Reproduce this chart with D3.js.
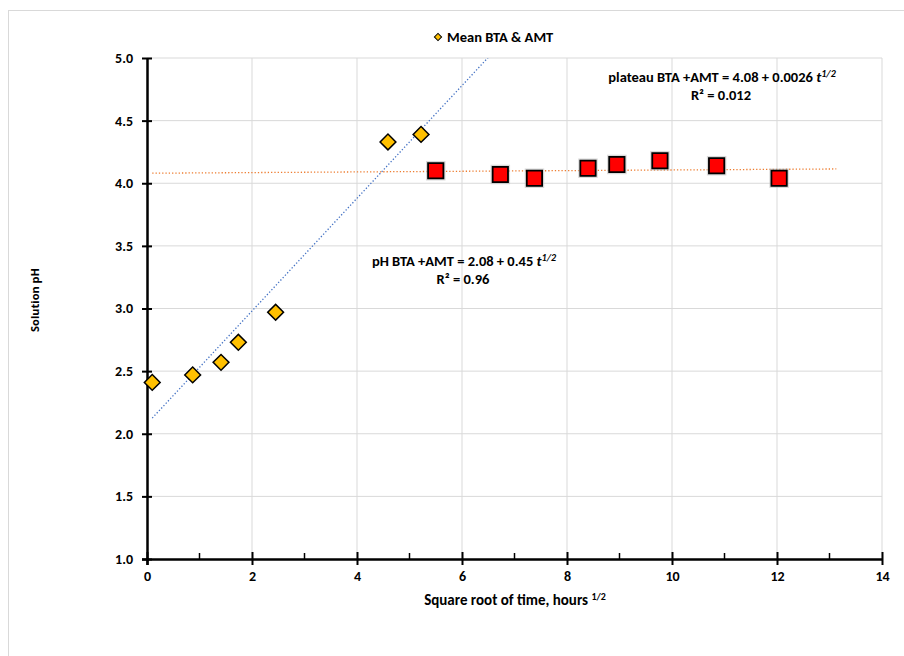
<!DOCTYPE html>
<html>
<head>
<meta charset="utf-8">
<script src="https://cdn.jsdelivr.net/npm/d3@7"></script>
<style>
  body { margin: 0; background: #fff; }
  text { font-family: Carlito, "Liberation Sans Narrow", "Liberation Sans", sans-serif; font-weight: bold; fill: #000; }
</style>
</head>
<body>
<div id="chart"></div>
<script>
// square root of time (hours^1/2) and solution pH
var riseX = [0.1, 0.87, 1.41, 1.74, 2.45, 4.59, 5.22];
var riseY = [2.41, 2.47, 2.57, 2.73, 2.97, 4.33, 4.39];
var plateauX = [5.5, 6.73, 7.38, 8.4, 8.95, 9.77, 10.85, 12.04];
var plateauY = [4.10, 4.07, 4.04, 4.12, 4.15, 4.18, 4.14, 4.04];

// trendline coefficients (from the equation labels)
var riseFit = {a: 2.08, b: 0.45, from: 0.1, to: 7};
var plateauFit = {a: 4.08, b: 0.0026, from: 0.1, to: 13.13};

var xTicks = [0, 2, 4, 6, 8, 10, 12, 14];
var xMinor = [1, 3, 5, 7, 9, 11, 13];
var yTicks = [1.0, 1.5, 2.0, 2.5, 3.0, 3.5, 4.0, 4.5, 5.0];

var W = 904, H = 656;
var margin = {top: 58, right: 22, bottom: 97, left: 147};
var width = W - margin.left - margin.right,
    height = H - margin.top - margin.bottom;

var svg = d3.select("#chart").append("svg")
  .attr("width", W)
  .attr("height", H);

// chart frame
svg.append("rect")
  .attr("x", 8.5).attr("y", 10.5)
  .attr("width", W).attr("height", H)
  .attr("fill", "none").attr("stroke", "#d9d9d9");

var g = svg.append("g")
  .attr("transform", "translate(" + margin.left + "," + margin.top + ")");

var x = d3.scaleLinear().domain([0, 14]).range([0, width]);
var y = d3.scaleLinear().domain([1, 5]).range([height, 0]);

// grid
g.append("g").selectAll("line")
  .data(yTicks.slice(1))
  .enter().append("line")
  .attr("x1", 0).attr("x2", width)
  .attr("y1", function(d) { return y(d); })
  .attr("y2", function(d) { return y(d); })
  .attr("stroke", "#d9d9d9");

g.append("g").selectAll("line")
  .data(xTicks.slice(1))
  .enter().append("line")
  .attr("x1", function(d) { return x(d); })
  .attr("x2", function(d) { return x(d); })
  .attr("y1", 0).attr("y2", height)
  .attr("stroke", "#d9d9d9");

// axes
var xAxis = g.append("g")
  .attr("transform", "translate(0," + height + ")")
  .call(d3.axisBottom(x).tickValues(xTicks).tickSize(6).tickPadding(6).tickFormat(d3.format("d")));
xAxis.select(".domain").attr("stroke-width", 2.5);
xAxis.selectAll(".tick line").attr("y1", -7).attr("stroke-width", 2);
xAxis.selectAll(".tick text").style("font-size", "14px");

g.append("g").selectAll("line")
  .data(xMinor)
  .enter().append("line")
  .attr("x1", function(d) { return x(d); })
  .attr("x2", function(d) { return x(d); })
  .attr("y1", height - 6).attr("y2", height + 1)
  .attr("stroke", "#000").attr("stroke-width", 1.5);

var yAxis = g.append("g")
  .call(d3.axisLeft(y).tickValues(yTicks).tickSize(5).tickPadding(9).tickFormat(d3.format(".1f")));
yAxis.select(".domain").attr("stroke-width", 2.5);
yAxis.selectAll(".tick line").attr("x1", 5).attr("x2", -5).attr("stroke-width", 2);
yAxis.selectAll(".tick text").style("font-size", "14px");
g.selectAll(".domain").attr("d", function() { return d3.select(this).attr("d").replace(/V6|V-6|H-5|H5/g, ""); });

// trendlines
function fitLine(f) {
  return [[f.from, f.a + f.b * f.from], [f.to, f.a + f.b * f.to]];
}
g.append("clipPath").attr("id", "plot")
  .append("rect").attr("width", width).attr("height", height);

var line = d3.line()
  .x(function(d) { return x(d[0]); })
  .y(function(d) { return y(d[1]); });

g.append("path")
  .attr("clip-path", "url(#plot)")
  .attr("d", line(fitLine(riseFit)))
  .attr("fill", "none").attr("stroke", "#4472c4")
  .attr("stroke-width", 1.3).attr("stroke-dasharray", "1.3,2");

g.append("path")
  .attr("clip-path", "url(#plot)")
  .attr("d", line(fitLine(plateauFit)))
  .attr("fill", "none").attr("stroke", "#ed7d31")
  .attr("stroke-width", 1.3).attr("stroke-dasharray", "1.3,2");

// markers
var sq = d3.symbol().type(d3.symbolSquare);

g.append("g").selectAll("path")
  .data(riseX)
  .enter().append("path")
  .attr("d", sq.size(125)())
  .attr("transform", function(d, i) { return "translate(" + x(d) + "," + y(riseY[i]) + ") rotate(45)"; })
  .attr("fill", "#ffc000").attr("stroke", "#000").attr("stroke-width", 1.5);

var pts = g.append("g").selectAll("g")
  .data(plateauX)
  .enter().append("g")
  .attr("transform", function(d, i) { return "translate(" + x(d) + "," + y(plateauY[i]) + ")"; });
pts.append("path")
  .attr("d", sq.size(380)())
  .attr("fill", "#bfbfbf").attr("opacity", 0.6);
pts.append("path")
  .attr("d", sq.size(235)())
  .attr("fill", "#ff0000").attr("stroke", "#000").attr("stroke-width", 1.8);

// equation labels
function eq(cx, cy, pre, a, b) {
  var t = g.append("text").attr("x", cx).attr("y", cy)
    .attr("text-anchor", "middle").style("font-size", "14.5px");
  t.append("tspan").text(pre + " = " + a + b + " ");
  t.append("tspan").style("font-style", "italic").text("t");
  t.append("tspan").attr("dy", -5).style("font-size", "10px").style("font-style", "italic").text("1/2");
}
eq(722 - margin.left, 82 - margin.top, "plateau BTA +AMT", "4.08", "  + 0.0026");
g.append("text").attr("x", 721 - margin.left).attr("y", 100 - margin.top)
  .attr("text-anchor", "middle").style("font-size", "14.5px").text("R² = 0.012");

eq(464 - margin.left, 266 - margin.top, "pH BTA +AMT", "2.08", " + 0.45");
g.append("text").attr("x", 463 - margin.left).attr("y", 284 - margin.top)
  .attr("text-anchor", "middle").style("font-size", "14.5px").text("R² = 0.96");

// legend
svg.append("path")
  .attr("d", sq.size(26)())
  .attr("transform", "translate(438,37) rotate(45)")
  .attr("fill", "#ffc000").attr("stroke", "#000").attr("stroke-width", 1);
svg.append("text").attr("x", 447).attr("y", 42)
  .style("font-size", "14.5px").text("Mean BTA & AMT");

// axis titles
var xt = svg.append("text").attr("x", 515).attr("y", 605)
  .attr("text-anchor", "middle").style("font-size", "15px");
xt.append("tspan").text("Square root of time, hours ");
xt.append("tspan").attr("dy", -5).style("font-size", "10px").text("1/2");

svg.append("text")
  .attr("transform", "translate(39,300) rotate(-90)")
  .attr("text-anchor", "middle")
  .style("font-family", "'Open Sans', sans-serif")
  .style("font-size", "11px").text("Solution pH");
</script>
</body>
</html>
